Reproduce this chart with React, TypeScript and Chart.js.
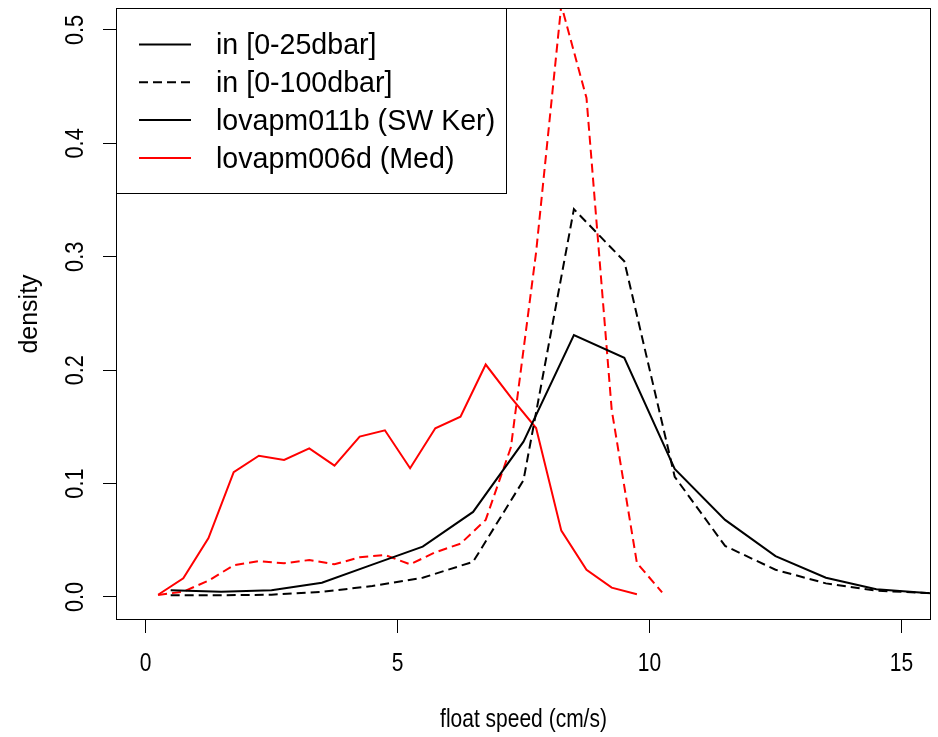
import React, { useEffect, useRef } from "react";
import { Chart, registerables } from "chart.js";

Chart.register(...registerables);

// ---- data ----
const X_TICKS = [0, 5, 10, 15];
const Y_TICKS = [0, 0.1, 0.2, 0.3, 0.4, 0.5];
const Y_TICK_LABELS = ["0.0", "0.1", "0.2", "0.3", "0.4", "0.5"];
const X_TICK_LABELS = ["0", "5", "10", "15"];

// speed bins (cm/s)
const KER_SPEED = [0.5, 1.5, 2.5, 3.5, 4.5, 5.5, 6.5, 7.5, 8.5, 9.5, 10.5, 11.5, 12.5, 13.5, 14.5, 15.5, 16.5];
const MED_SPEED_25 = [0.25, 0.75, 1.25, 1.75, 2.25, 2.75, 3.25, 3.75, 4.25, 4.75, 5.25, 5.75, 6.25, 6.75, 7.25, 7.75, 8.25, 8.75, 9.25, 9.75];
const MED_SPEED_100 = [0.25, 0.75, 1.25, 1.75, 2.25, 2.75, 3.25, 3.75, 4.25, 4.75, 5.25, 5.75, 6.25, 6.75, 7.25, 7.75, 8.25, 8.75, 9.25, 9.75, 10.25];

// densities
const KER_0_25 = [0.006, 0.0047, 0.006, 0.0126, 0.0285, 0.0444, 0.075, 0.137, 0.231, 0.211, 0.113, 0.068, 0.036, 0.017, 0.0068, 0.0035, 0.002];
const KER_0_100 = [0.0015, 0.0015, 0.002, 0.0045, 0.0097, 0.017, 0.031, 0.103, 0.342, 0.296, 0.106, 0.045, 0.024, 0.012, 0.0056, 0.0035, 0.002];
const MED_0_25 = [0.002, 0.0165, 0.052, 0.11, 0.1246, 0.1208, 0.131, 0.1158, 0.1414, 0.147, 0.1135, 0.1488, 0.159, 0.205, 0.176, 0.149, 0.0585, 0.024, 0.0082, 0.0024];
const MED_0_100 = [0.0018, 0.0047, 0.0144, 0.028, 0.0317, 0.0297, 0.0326, 0.0288, 0.035, 0.037, 0.0288, 0.0394, 0.047, 0.068, 0.132, 0.304, 0.522, 0.44, 0.165, 0.03, 0.004];

const LEGEND_LABELS = ["in [0-25dbar]", "in [0-100dbar]", "lovapm011b (SW Ker)", "lovapm006d (Med)"];
const LEGEND_COLORS = ["#000000", "#000000", "#000000", "#ff0000"];
const LEGEND_DASHED = [false, true, false, false];

const X_TITLE = "float speed (cm/s)";
const Y_TITLE = "density";

const X_MIN = -0.585;
const X_MAX = 15.585;
const Y_MIN = -0.0203;
const Y_MAX = 0.5194;

const AXIS_FAMILY = "'Liberation Sans', Arial, sans-serif";
const LEGEND_FAMILY = "'Liberation Sans', Arial, sans-serif";
const DASH = [9, 5];
const CONDENSE = 0.84;

const pts = (xs: number[], ys: number[]) => xs.map((x, i) => ({ x, y: ys[i] }));

export default function App() {
  const ref = useRef<HTMLCanvasElement | null>(null);

  useEffect(() => {
    if (!ref.current) return;

    const decor = {
      id: "decor",
      afterDraw(chart: any) {
        const ctx = chart.ctx;
        const a = chart.chartArea;
        const ys = chart.scales.y;
        const xs = chart.scales.x;
        ctx.save();
        // box
        ctx.strokeStyle = "#000";
        ctx.lineWidth = 1;
        ctx.strokeRect(a.left + 0.5, a.top + 0.5, a.right - a.left - 1, a.bottom - a.top - 1);

        ctx.fillStyle = "#000";
        ctx.font = `25px ${AXIS_FAMILY}`;
        ctx.textAlign = "center";
        ctx.textBaseline = "middle";

        // y tick labels (rotated, R style)
        Y_TICKS.forEach((v, i) => {
          const py = ys.getPixelForValue(v);
          ctx.save();
          ctx.translate(76, py);
          ctx.rotate(-Math.PI / 2);
          ctx.scale(0.87, 1);
          ctx.fillText(Y_TICK_LABELS[i], 0, 0);
          ctx.restore();
        });

        // x tick labels
        X_TICKS.forEach((v, i) => {
          const px = xs.getPixelForValue(v);
          ctx.save();
          ctx.translate(px, 664);
          ctx.scale(CONDENSE, 1);
          ctx.fillText(X_TICK_LABELS[i], 0, 0);
          ctx.restore();
        });

        // axis titles
        ctx.save();
        ctx.translate(30, (a.top + a.bottom) / 2);
        ctx.rotate(-Math.PI / 2);
        ctx.fillText(Y_TITLE, 0, 0);
        ctx.restore();
        ctx.save();
        ctx.translate((a.left + a.right) / 2, 720);
        ctx.scale(CONDENSE, 1);
        ctx.fillText(X_TITLE, 0, 0);
        ctx.restore();

        // legend
        const lx = a.left, ly = a.top, lw = 391, lh = 186;
        ctx.fillStyle = "#fff";
        ctx.fillRect(lx, ly, lw, lh);
        ctx.strokeStyle = "#000";
        ctx.lineWidth = 1;
        ctx.strokeRect(lx + 0.5, ly + 0.5, lw - 1, lh - 1);
        ctx.font = `28.6px ${LEGEND_FAMILY}`;
        ctx.textAlign = "left";
        ctx.textBaseline = "middle";
        LEGEND_LABELS.forEach((lab, i) => {
          const yy = 44.5 + i * 37.8;
          ctx.beginPath();
          ctx.strokeStyle = LEGEND_COLORS[i];
          ctx.lineWidth = 2;
          ctx.setLineDash(LEGEND_DASHED[i] ? DASH : []);
          ctx.moveTo(139, yy);
          ctx.lineTo(191, yy);
          ctx.stroke();
          ctx.setLineDash([]);
          ctx.fillStyle = "#000";
          ctx.fillText(lab, 216, yy + 2);
        });
        ctx.restore();
      },
    };

    const lineDs = (label: string, data: any[], color: string, dashed: boolean) => ({
      label,
      data,
      borderColor: color,
      backgroundColor: color,
      borderWidth: 2,
      borderDash: dashed ? DASH : [],
      pointRadius: 0,
      tension: 0,
      fill: false,
    });

    const chart = new Chart(ref.current, {
      type: "line",
      data: {
        datasets: [
          lineDs("SW Ker 0-25dbar", pts(KER_SPEED, KER_0_25), "#000000", false),
          lineDs("SW Ker 0-100dbar", pts(KER_SPEED, KER_0_100), "#000000", true),
          lineDs("Med 0-25dbar", pts(MED_SPEED_25, MED_0_25), "#ff0000", false),
          lineDs("Med 0-100dbar", pts(MED_SPEED_100, MED_0_100), "#ff0000", true),
        ],
      },
      options: {
        animation: false,
        responsive: false,
        devicePixelRatio: 1,
        layout: { padding: { left: 0, right: 7, top: 8, bottom: 0 } },
        plugins: {
          legend: { display: false },
          tooltip: { enabled: false },
        },
        scales: {
          x: {
            type: "linear",
            min: X_MIN,
            max: X_MAX,
            afterBuildTicks: (s: any) => {
              s.ticks = X_TICKS.map((v) => ({ value: v }));
            },
            afterFit: (s: any) => {
              s.height = 117;
            },
            border: { display: false },
            grid: { drawOnChartArea: false, drawTicks: true, tickLength: 13, color: "#000", lineWidth: 1 },
            ticks: { display: false },
          },
          y: {
            type: "linear",
            min: Y_MIN,
            max: Y_MAX,
            afterBuildTicks: (s: any) => {
              s.ticks = Y_TICKS.map((v) => ({ value: v }));
            },
            afterFit: (s: any) => {
              s.width = 116;
            },
            border: { display: false },
            grid: { drawOnChartArea: false, drawTicks: true, tickLength: 13, color: "#000", lineWidth: 1 },
            ticks: { display: false },
          },
        },
      },
      plugins: [decor],
    } as any);

    return () => chart.destroy();
  }, []);

  return (
    <div style={{ position: "fixed", left: 0, top: 0, width: 938, height: 737, background: "#fff" }}>
      <canvas ref={ref} width={938} height={737} style={{ display: "block" }} />
    </div>
  );
}
